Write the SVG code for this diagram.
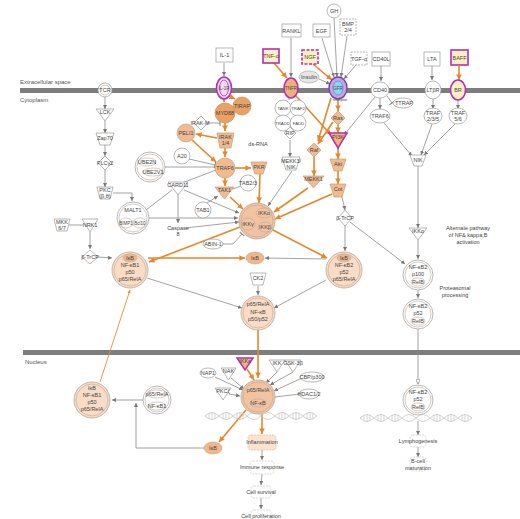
<svg xmlns="http://www.w3.org/2000/svg" width="520" height="519" viewBox="0 0 520 519">
<defs>
<style>
text{font-family:"Liberation Sans",Arial,sans-serif;font-size:5.5px;fill:#444;text-anchor:middle}
.lbl{text-anchor:start;font-size:6px;fill:#555}
.sm{font-size:4.3px}
.g{fill:none;stroke:#8c8c8c;stroke-width:0.8}
.o{fill:none;stroke:#e8862a;stroke-width:1.6}
.ot{fill:none;stroke:#d9923a;stroke-width:0.9}
.n{fill:#fff;stroke:#9a9a9a;stroke-width:0.7}
.nd{fill:#fff;stroke:#9a9a9a;stroke-width:0.7;stroke-dasharray:2 1}
.or{fill:#e9a265;stroke:#c98a50;stroke-width:0.7}
.lo{fill:#f0bb90;stroke:#c99b78;stroke-width:0.7}
.cx{fill:#f8dcc6;stroke:#b9a89c;stroke-width:0.8}
.ci{fill:none;stroke:#b9a89c;stroke-width:0.6}
.mg{stroke:#b42fb4;stroke-width:1.6}
.yl{fill:#fff0c4}
.fn{fill:#fff;stroke:#c8c8c8;stroke-width:0.7;stroke-dasharray:2 1}
.dna{fill:none;stroke:#c8c8c8;stroke-width:0.8}
</style>
<marker id="ag" viewBox="0 0 6 6" refX="6" refY="3" markerWidth="5" markerHeight="5" orient="auto"><path d="M0,0L6,3L0,6z" fill="#777"/></marker>
<marker id="aw" viewBox="0 0 6 6" refX="6" refY="3" markerWidth="6" markerHeight="6" orient="auto"><path d="M0,0L6,3L0,6z" fill="#fff" stroke="#777" stroke-width="0.8"/></marker>
<marker id="ao" viewBox="0 0 6 6" refX="6" refY="3" markerWidth="3.5" markerHeight="3.5" orient="auto"><path d="M0,0L6,3L0,6z" fill="#e8862a"/></marker>
<marker id="ab" viewBox="0 0 4 8" refX="2" refY="4" markerWidth="4" markerHeight="8" orient="auto"><path d="M2,0L2,8" stroke="#777" stroke-width="1.2"/></marker>
</defs>
<rect width="520" height="519" fill="#fff"/>

<g id="membranes">
<rect x="20" y="88" width="500" height="5" fill="#7d7d7d"/>
<text class="lbl" x="20" y="84">Extracellular space</text>
<text class="lbl" x="20" y="102">Cytoplasm</text>
<rect x="23" y="350" width="497" height="5" fill="#7d7d7d"/>
<text class="lbl" x="25" y="364">Nucleus</text>
</g>

<g id="connectors">
<g marker-end="url(#ag)">
<path class="g" d="M224,63L224,76"/>
<path class="g" d="M291,38L291,77"/>
<path class="g" d="M322,38L334,77"/>
<path class="g" d="M334,18L337,77"/>
<path class="g" d="M347,36L341,77"/>
<path class="g" d="M356,65L344,79"/>
<path class="g" d="M319,79L330,84"/>
<path class="g" d="M381,66L381,81"/>
<path class="g" d="M432,66L432,80"/>
<path class="g" d="M380,98L380,109"/>
<path class="g" d="M433,99L433,109"/>
<path class="g" d="M458,99L458,109"/>
<path class="g" d="M384,123L412,156"/>
<path class="g" d="M432,124L421,155"/>
<path class="g" d="M455,124L424,155"/>
<path class="g" d="M418,166L418,228"/>
<path class="g" d="M418,240L418,259"/>
<path class="g" d="M418,290L418,298"/>
<path class="g" d="M418,421L418,435"/>
<path class="g" d="M418,447L418,457"/>
<path class="g" d="M375,97L344,135"/>
<path class="g" d="M290,140L290,157"/>
<path class="g" d="M292,171L268,206"/>
<path class="g" d="M105,97L105,109"/>
<path class="g" d="M105,121L105,133"/>
<path class="g" d="M105,145L105,156"/>
<path class="g" d="M105,170L105,187"/>
<path class="g" d="M113,193L132,193L132,201"/>
<path class="g" d="M149,218L238,218"/>
<path class="g" d="M184,190L239,213"/>
<path class="g" d="M178,193L178,223"/>
<path class="g" d="M207,203L218,196"/>
<path class="g" d="M185,228L239,222"/>
<path class="g" d="M90,232L90,249"/>
<path class="g" d="M98,257L112,258"/>
<path class="g" d="M147,278L242,308"/>
<path class="g" d="M326,280L274,308"/>
<path class="g" d="M258,286L258,295"/>
<path class="g" d="M326,259L265,258"/>
<path class="g" d="M342,197L345,210"/>
<path class="g" d="M345,225L345,251"/>
<path class="g" d="M350,222L405,264"/>
<path class="g" d="M215,377L243,390"/>
<path class="g" d="M231,378L244,389"/>
<path class="g" d="M229,394L240,396"/>
<path class="g" d="M277,372L266,383"/>
<path class="g" d="M293,372L270,385"/>
<path class="g" d="M302,378L274,391"/>
<path class="g" d="M262,450L262,460"/>
<path class="g" d="M262,474L261,485"/>
<path class="g" d="M261,498L261,509"/>
<path class="g" d="M143,400L112,400"/>
<path class="g" d="M204,448L136,448L136,403"/>
</g>
<path class="g" d="M418,329L418,384" marker-end="url(#aw)"/>
<g>
<path class="g" d="M289,97L289,100"/>
<path class="g" d="M172,190L146,210"/>
<path class="g" d="M182,183L216,170"/>
<path class="g" d="M165,167L215,167"/>
<path class="g" d="M241,186L230,190"/>
<path class="g" d="M69,225L83,225"/>
<path class="g" d="M300,394L275,397"/>
</g>
<g marker-end="url(#ab)">
<path class="g" d="M387,96L392,103"/>
<path class="g" d="M189,159L215,165"/>
<path class="g" d="M222,244L233,244L242,234"/>
<path class="g" d="M208,123L220,123"/>
</g>
<g marker-end="url(#ao)">
<path class="o" d="M274,63L287,78"/>
<path class="o" d="M313,64L332,80"/>
<path class="o" d="M459,66L459,80"/>
<path class="o" d="M224,99L224,102"/>
<path class="o" d="M229,96L235,99"/>
<path class="o" d="M225,123L225,131"/>
<path class="o" d="M225,148L225,157"/>
<path class="o" d="M217,138L196,134"/>
<path class="o" d="M192,140L216,162"/>
<path class="o" d="M235,168L251,168"/>
<path class="o" d="M225,178L225,186"/>
<path class="o" d="M230,197L243,209"/>
<path class="o" d="M260,174L259,203"/>
<path class="o" d="M308,188L274,212"/>
<path class="o" d="M332,194L275,219"/>
<path class="o" d="M338,171L338,184"/>
<path class="o" d="M338,125L338,133"/>
<path class="o" d="M338,148L338,159"/>
<path class="o" d="M333,122L318,144"/>
<path class="o" d="M314,157L314,176"/>
<path class="o" d="M338,99L338,111"/>
<path class="o" d="M296,96L331,135"/>
<path class="o" d="M331,98L318,141"/>
<path class="o" d="M240,227L149,262"/>
<path class="o" d="M148,258L245,258"/>
<path class="o" d="M271,229L327,258"/>
<path class="o" d="M258,330L258,378"/>
<path class="o" d="M247,369L254,380"/>
<path class="o" d="M262,414L262,434"/>
<path class="o" d="M246,410L219,442"/>
<path class="ot" d="M100,382L130,290"/>
</g>
</g>

<g id="IL-1"><rect class="n" x="216" y="48" width="17" height="14"/><text x="224.5" y="57">IL-1</text></g>
<g id="TNFa"><rect class="mg yl" x="263" y="49" width="16" height="14"/><text x="271" y="58">TNF-α</text></g>
<g id="RANKL"><rect class="n" x="282" y="24" width="19" height="13"/><text x="291.5" y="32.5">RANKL</text></g>
<g id="EGF"><rect class="n" x="313" y="24" width="17" height="13"/><text x="321.5" y="32.5">EGF</text></g>
<g id="GH"><circle class="n" cx="334" cy="11" r="7"/><text x="334" y="13">GH</text></g>
<g id="BMP"><rect class="nd" x="340" y="19" width="16" height="16"/><text x="348" y="26">BMP</text><text x="348" y="32">2/4</text></g>
<g id="NGF"><rect class="mg yl" x="302" y="50" width="16" height="14" stroke-dasharray="3 1.5"/><text x="310" y="59">NGF</text></g>
<g id="Insulin"><ellipse cx="309" cy="77" rx="10" ry="6" fill="#e6e6e6" stroke="#aaa" stroke-width="0.7"/><text x="309" y="79">Insulin</text></g>
<g id="TGFa"><rect class="nd" x="351" y="52" width="16" height="13"/><text x="359" y="60.5">TGF-α</text></g>
<g id="CD40L"><rect class="n" x="372" y="52" width="18" height="14"/><text x="381" y="61">CD40L</text></g>
<g id="LTA"><rect class="n" x="424" y="52" width="16" height="14"/><text x="432" y="61">LTA</text></g>
<g id="BAFF"><rect class="mg yl" x="451" y="50" width="17" height="15"/><text x="459.5" y="59.5">BAFF</text></g>

<g id="TCR"><circle class="n" cx="105" cy="90" r="7"/><circle class="ci" cx="105" cy="90" r="5"/><text x="105" y="92">TCR</text></g>
<g id="IL-1R"><ellipse cx="224" cy="88" rx="7.5" ry="11" fill="#f3d9f0" class="mg"/><ellipse cx="224" cy="88" rx="4.5" ry="8" fill="none" stroke="#8a3fb0" stroke-width="0.8"/><text x="224" y="90" style="font-size:4.5px">IL-1R</text></g>
<g id="TNFR"><ellipse cx="291" cy="88" rx="7" ry="10" class="mg" fill="#eeb07a"/><text x="291" y="90" style="font-size:4.5px">TNFR</text></g>
<g id="receptor"><ellipse cx="338" cy="88" rx="9" ry="11" fill="#c7a6e0" stroke="#7b3fb0" stroke-width="1.4"/><ellipse cx="338" cy="88" rx="5" ry="7" fill="#8fd3f0" stroke="#4a7fc0" stroke-width="0.6"/><text x="338" y="90" style="font-size:4.5px">GFR</text><text x="340" y="101" style="font-size:4px">receptor</text></g>
<g id="CD40"><ellipse class="n" cx="380" cy="90" rx="9" ry="8"/><text x="380" y="92">CD40</text></g>
<g id="LTbR"><ellipse class="n" cx="433" cy="90" rx="8" ry="9"/><text x="433" y="92">LTβR</text></g>
<g id="BAFFR"><ellipse cx="458" cy="90" rx="7.5" ry="10" class="mg" fill="#fff0c4"/><text x="458" y="92">BR</text></g>

<g id="TIRAP"><circle class="or" cx="242" cy="106" r="9"/><text x="242" y="108">TIRAP</text></g>
<g id="MYD88"><circle class="or" cx="225" cy="113" r="10"/><text x="225" y="115">MYD88</text></g>
<g id="IRAK-M"><path class="n" d="M201,116L208,123L201,130L194,123z"/><text x="200" y="125">IRAK-M</text></g>
<g id="PELI1"><circle class="lo" cx="186" cy="133" r="9"/><text x="186" y="135">PELI1</text></g>
<g id="IRAK"><path class="lo" d="M217,133L234,133L231,148L220,148z"/><text x="225.5" y="139">IRAK</text><text x="225.5" y="145">1/4</text></g>
<g id="A20"><circle class="n" cx="182" cy="156" r="8"/><text x="182" y="158">A20</text></g>
<g id="TRAF6"><circle class="lo" cx="225" cy="168" r="10"/><text x="225" y="170">TRAF6</text></g>
<g id="dsRNA"><text x="258" y="146">ds-RNA</text></g>
<g id="PKR"><path class="lo" d="M251,162L267,162L263,174L255,174z"/><text x="259" y="169">PKR</text></g>
<g id="TANK"><circle class="n" cx="283" cy="108" r="8"/><text class="sm" x="283" y="110">TANK</text></g>
<g id="TRAF2"><circle class="n" cx="298" cy="108" r="8"/><text class="sm" x="298" y="110">TRAF2</text></g>
<g id="TRADD"><circle class="n" cx="283" cy="123" r="8"/><text class="sm" x="282.5" y="125">TRADD</text></g>
<g id="FADD"><circle class="n" cx="298" cy="123" r="8"/><text class="sm" x="298.5" y="125">FADD</text></g>
<g id="RIP"><path class="n" d="M290,127L296,133L290,139L284,133z"/><text x="290" y="135">RIP</text></g>
<g id="MEKK3"><path class="n" d="M282,157L300,157L296,170L286,170z"/><text x="291" y="163">MEKK3/</text><text x="291" y="169">NIK</text></g>
<g id="Ras"><path class="lo" d="M338,111L345,118L338,125L331,118z"/><text x="338" y="120">Ras</text></g>
<g id="PI3K"><path d="M329,133L347,133L338,148z" fill="#f0b27a" stroke="#b42fb4" stroke-width="1.5"/><text x="338" y="139">PI3K</text></g>
<g id="Raf"><path class="lo" d="M314,143L321,150L314,157L307,150z"/><text x="314" y="152">Raf</text></g>
<g id="Akt"><path class="lo" d="M330,159L346,159L342,171L334,171z"/><text x="338" y="166">Akt</text></g>
<g id="MEKK1"><path class="lo" d="M303,176L324,176L313.5,188z"/><text x="313.5" y="181">MEKK1</text></g>
<g id="Cot"><path class="lo" d="M330,184L346,184L342,197L334,197z"/><text x="338" y="191">Cot</text></g>

<g id="UBE2N"><circle class="n" cx="150" cy="167" r="15"/><circle class="ci" cx="150" cy="167" r="13"/><ellipse class="ci" cx="147" cy="162" rx="9" ry="4"/><ellipse class="ci" cx="153" cy="172" rx="10" ry="4"/><text x="147" y="164">UBE2N</text><text x="153" y="174">UBE2V1</text></g>
<g id="CARD11"><path class="n" d="M168,182L188,182L178,195z"/><text x="178" y="187">CARD11</text></g>
<g id="TAB23"><circle class="n" cx="248" cy="183" r="8"/><text x="248" y="185">TAB2/3</text></g>
<g id="TAK1"><path class="lo" d="M215,187L234,187L224.5,199z"/><text x="224.5" y="192">TAK1</text></g>
<g id="TAB1"><circle class="n" cx="203" cy="210" r="8"/><text x="203" y="212">TAB1</text></g>
<g id="MALT1"><circle class="n" cx="133" cy="218" r="16"/><circle class="ci" cx="133" cy="218" r="14"/><text x="133" y="212">MALT1</text><ellipse class="ci" cx="126" cy="223" rx="7" ry="5"/><ellipse class="ci" cx="140" cy="223" rx="7" ry="5"/><text x="126" y="225" style="font-size:4.5px">BIMP1</text><text x="140" y="225" style="font-size:4.5px">Bcl10</text></g>
<g id="Caspase8"><text x="178" y="230">Caspase</text><text x="178" y="236">8</text></g>
<g id="IKK"><circle cx="257" cy="221" r="18" fill="#f2c3a0" stroke="#b9a89c" stroke-width="0.8"/><circle class="ci" cx="257" cy="221" r="16"/><ellipse class="ci" cx="264" cy="213" rx="8" ry="5"/><ellipse class="ci" cx="248" cy="224" rx="7" ry="6"/><ellipse class="ci" cx="265" cy="227" rx="7" ry="5"/><text x="264" y="215">IKKα</text><text x="248" y="226">IKKγ</text><text x="265" y="229">IKKβ</text></g>
<g id="ABIN1"><ellipse class="n" cx="213" cy="244" rx="10" ry="5"/><text x="213" y="246">ABIN-1</text></g>
<g id="LCK"><path class="n" d="M96,109L114,109L105,121z"/><text x="105" y="114">LCK</text></g>
<g id="Zap70"><path class="n" d="M96,133L114,133L110,145L100,145z"/><text x="105" y="140">Zap70</text></g>
<g id="PLCg2"><path class="n" d="M105,156L112,163L105,170L98,163z"/><text x="105" y="165">PLCγ2</text></g>
<g id="PKC"><path class="n" d="M97,187L113,187L110,199L100,199z"/><text x="105" y="192">PKC</text><text x="105" y="198">(β,θ)</text></g>
<g id="MKK67"><path class="n" d="M54,219L70,219L67,231L57,231z"/><text x="62" y="224">MKK</text><text x="62" y="230">6/7</text></g>
<g id="NRK1"><path class="n" d="M82,219L98,219L90,232z"/><text x="90" y="227">NRK1</text></g>
<g id="bTrCP1"><path class="n" d="M90,250L98,257L90,264L82,257z"/><text x="90" y="259">β-TrCP</text></g>
<g id="cplxL"><circle class="cx" cx="130" cy="270" r="18"/><circle class="ci" cx="130" cy="270" r="16"/><ellipse cx="130" cy="258" rx="7" ry="4" fill="#eeb58b" stroke="#b9a89c" stroke-width="0.5"/><text x="130" y="260">IκB</text><text x="130" y="267">NF-κB1</text><text x="130" y="274">p50</text><text x="130" y="281">p65/RelA</text></g>
<g id="IkB"><ellipse cx="255" cy="258" rx="9" ry="6" fill="#efb78c" stroke="#c99b78" stroke-width="0.6"/><text x="255" y="260">IκB</text></g>
<g id="cplxR"><circle class="cx" cx="344" cy="270" r="18"/><circle class="ci" cx="344" cy="270" r="16"/><ellipse cx="344" cy="258" rx="7" ry="4" fill="#eeb58b" stroke="#b9a89c" stroke-width="0.5"/><text x="344" y="260">IκB</text><text x="344" y="267">NF-κB2</text><text x="344" y="274">p52</text><text x="344" y="281">p65/RelA</text></g>
<g id="bTrCP2"><path class="n" d="M345,210L352,218L345,226L338,218z"/><text x="345" y="220">β-TrCP</text></g>
<g id="CK2"><path class="n" d="M250,273L266,273L263,285L253,285z"/><text x="258" y="280">CK2</text></g>
<g id="cplxM"><circle class="cx" cx="258" cy="313" r="17"/><circle class="ci" cx="258" cy="313" r="15"/><text x="258" y="306">p65/RelA</text><text x="258" y="314">NF-κB</text><text x="258" y="321">p50/p52</text></g>

<g id="TRAF6r"><ellipse class="n" cx="380" cy="116" rx="10" ry="7"/><text x="380" y="118">TRAF6</text></g>
<g id="TTRAP"><ellipse class="n" cx="403" cy="103" rx="10" ry="5"/><text x="404" y="105">TTRAP</text></g>
<g id="TRAF235"><ellipse class="n" cx="433" cy="116" rx="9" ry="8"/><text x="433" y="115">TRAF</text><text x="433" y="121">2/3/5</text></g>
<g id="TRAF56"><ellipse class="n" cx="458" cy="116" rx="9" ry="8"/><text x="458" y="115">TRAF</text><text x="458" y="121">5/6</text></g>
<g id="NIK"><path class="n" d="M410,155L426,155L422,166L414,166z"/><text x="418" y="162">NIK</text></g>
<g id="IKKa"><path class="n" d="M409,228L427,228L418,240z"/><text x="418" y="233">IKKα</text></g>
<g id="p100"><circle class="n" cx="418" cy="275" r="15"/><circle class="ci" cx="418" cy="275" r="13"/><text x="418" y="269">NF-κB2</text><text x="418" y="276">p100</text><ellipse class="ci" cx="418" cy="282" rx="7" ry="4"/><text x="418" y="284">RelB</text></g>
<g id="p52"><circle class="n" cx="418" cy="314" r="15"/><circle class="ci" cx="418" cy="314" r="13"/><text x="418" y="308">NF-κB2</text><text x="418" y="315">p52</text><ellipse class="ci" cx="418" cy="321" rx="7" ry="4"/><text x="418" y="323">RelB</text></g>
<g id="txtProt"><text x="455" y="290">Proteasomal</text><text x="455" y="297">processing</text></g>
<g id="txtAlt"><text x="468" y="230">Alternate pathway</text><text x="468" y="237">of NF&amp; kappa;B</text><text x="468" y="244">activation</text></g>

<g id="cplxLn"><circle class="cx" cx="92" cy="400" r="18"/><circle class="ci" cx="92" cy="400" r="16"/><text x="92" y="390">IκB</text><text x="92" y="397">NF-κB1</text><text x="92" y="404">p50</text><text x="92" y="411">p65/RelA</text></g>
<g id="p65NFkB1"><circle class="n" cx="157" cy="400" r="14"/><circle class="ci" cx="157" cy="400" r="12"/><ellipse class="ci" cx="157" cy="394" rx="10" ry="4"/><ellipse class="ci" cx="157" cy="406" rx="9" ry="4"/><text x="157" y="396">p65/RelA</text><text x="157" y="408">NF-κB1</text></g>
<g id="NAP1"><ellipse class="n" cx="208" cy="373" rx="8" ry="5"/><text x="208" y="375">NAP1</text></g>
<g id="NAK"><path class="n" d="M221,368L236,368L228.5,380z"/><text x="228.5" y="373">NAK</text></g>
<g id="IKKe"><path d="M237,358L253,358L245,370z" fill="#f0b27a" stroke="#b42fb4" stroke-width="1.5"/><text x="245" y="363">IKKε</text></g>
<g id="IKKi"><path class="n" d="M269,360L285,360L277,372z"/><text x="277" y="365">IKK</text></g>
<g id="GSK"><path class="n" d="M285,360L301,360L293,372z"/><text x="293" y="365">GSK-3β</text></g>
<g id="CBP"><ellipse class="n" cx="312" cy="377" rx="12" ry="5"/><text x="312" y="379">CBP/p300</text></g>
<g id="PKCz"><path class="n" d="M215,388L231,388L223,400z"/><text x="223" y="393">PKCζ</text></g>
<g id="HDAC"><ellipse class="n" cx="309" cy="394" rx="10" ry="5"/><text x="309" y="396">HDAC1/2</text></g>
<g id="dna1">
<path class="dna" d="M205,416Q212,409 219,416T233,416T247,416T261,416T275,416T289,416T303,416T317,416"/>
<path class="dna" d="M205,416Q212,423 219,416T233,416T247,416T261,416T275,416T289,416T303,416T317,416"/>
<path class="dna" d="M209,413v6M212,412v8M215,413v6M223,413v6M226,412v8M229,413v6M237,413v6M240,412v8M243,413v6M279,413v6M282,412v8M285,413v6M293,413v6M296,412v8M299,413v6M307,413v6M310,412v8M313,413v6"/>
</g>
<g id="cplxNuc"><circle cx="258" cy="397" r="17" fill="#f2c3a0" stroke="#b9a89c" stroke-width="0.8"/><circle class="ci" cx="258" cy="397" r="15"/><ellipse class="ci" cx="258" cy="403" rx="8" ry="4"/><text x="258" y="392">p65/RelA</text><text x="258" y="405">NF-κB</text></g>
<g id="IkBn"><ellipse cx="213" cy="448" rx="9" ry="6" fill="#efb78c" stroke="#c99b78" stroke-width="0.6"/><text x="213" y="450">IκB</text></g>
<g id="Inflammation"><rect x="248" y="435" width="28" height="15" rx="3" fill="#fbe3d2" stroke="#e0b898" stroke-width="0.7" stroke-dasharray="2 1"/><text x="262" y="444">Inflammation</text></g>
<g id="Immune"><rect class="fn" x="250" y="461" width="24" height="13" rx="3"/><text x="262" y="469">Immune response</text></g>
<g id="Survival"><rect class="fn" x="251" y="486" width="20" height="12" rx="3"/><text x="261" y="494">Cell survival</text></g>
<g id="Prolif"><rect class="fn" x="251" y="510" width="20" height="12" rx="3"/><text x="261" y="518">Cell proliferation</text></g>
<g id="cplxNucR"><circle class="n" cx="418" cy="400" r="15"/><circle class="ci" cx="418" cy="400" r="13"/><text x="418" y="394">NF-κB2</text><text x="418" y="401">p52</text><ellipse class="ci" cx="418" cy="407" rx="7" ry="4"/><text x="418" y="409">RelB</text></g>
<g id="dna2">
<path class="dna" d="M360,418Q367,411 374,418T388,418T402,418T416,418T430,418T444,418T458,418T472,418"/>
<path class="dna" d="M360,418Q367,425 374,418T388,418T402,418T416,418T430,418T444,418T458,418T472,418"/>
<path class="dna" d="M364,415v6M367,414v8M370,415v6M378,415v6M381,414v8M384,415v6M392,415v6M395,414v8M398,415v6M434,415v6M437,414v8M440,415v6M448,415v6M451,414v8M454,415v6M462,415v6M465,414v8M468,415v6"/>
</g>
<g id="Lymph"><rect class="fn" x="410" y="435" width="16" height="12" rx="3"/><text x="418" y="443">Lymphogenesis</text></g>
<g id="Bcell"><rect class="fn" x="410" y="457" width="16" height="14" rx="3"/><text x="418" y="463">B-cell</text><text x="418" y="470">maturation</text></g>
</svg>
